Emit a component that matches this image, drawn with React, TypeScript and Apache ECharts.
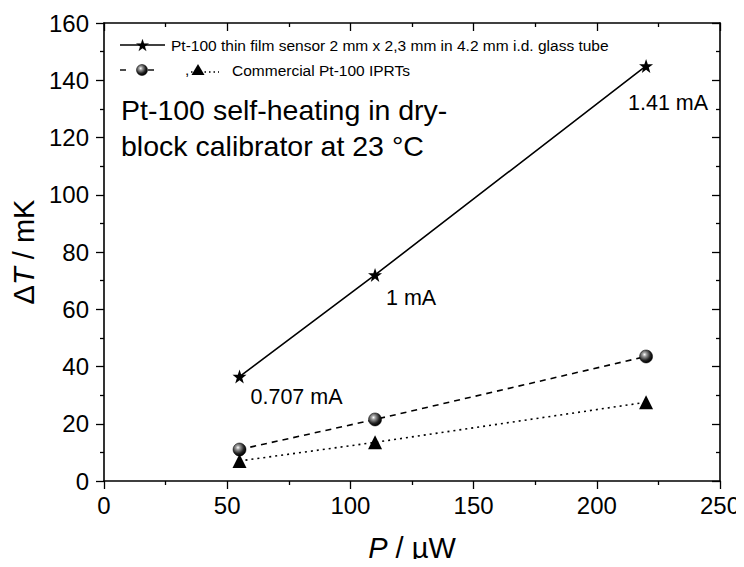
import React, { useEffect, useRef } from "react";
import * as echarts from "echarts";

const powerUW = [55, 110, 220];
const thinFilm = [36.5, 72, 145];
const iprtCircle = [11, 21.5, 43.5];
const iprtTriangle = [7, 13.5, 27.5];
const currentLabels = ["0.707 mA", "1 mA", "1.41 mA"];
const legendThin = "Pt-100 thin film sensor 2 mm x 2,3 mm in 4.2 mm i.d. glass tube";
const legendIPRT = "Commercial Pt-100 IPRTs";
const noteText = "Pt-100 self-heating in dry-\nblock calibrator at 23 °C";

const STAR_D =
  "M50,0 L61.8,35.3 L98.1,35.3 L68.7,57.1 L79.4,92.7 L50,70.9 L20.6,92.7 L31.3,57.1 L1.9,35.3 L38.2,35.3 Z";
const STAR = "path://" + STAR_D;

echarts.graphic.registerShape("legendStar", echarts.graphic.extendPath(STAR_D, {}));

const sphere = {
  type: "radial",
  x: 0.38,
  y: 0.35,
  r: 0.65,
  colorStops: [
    { offset: 0, color: "#ffffff" },
    { offset: 0.25, color: "#9a9a9a" },
    { offset: 0.7, color: "#222222" },
    { offset: 1, color: "#000000" },
  ],
};

const FONT = "Liberation Sans, Arial, sans-serif";
const labelOffsets = [
  [57, 20],
  [36, 23],
  [22, 37],
];

export default function App() {
  const ref = useRef<HTMLDivElement>(null);
  useEffect(() => {
    const chart = echarts.init(ref.current!, null, { renderer: "svg" });
    const pairs = (ys: number[]) => powerUW.map((x, i) => [x, ys[i]]);
    const tickStyle = { color: "#000", width: 1.3 };
    const axisCommon = {
      min: 0,
      axisLine: { show: true, onZero: false, lineStyle: { color: "#000", width: 1.6 } },
      splitLine: { show: false },
    };
    chart.setOption({
      animation: false,
      backgroundColor: "#fff",
      textStyle: { fontFamily: FONT },
      grid: { left: 104, right: 24, top: 23, bottom: 86 },
      xAxis: [
        {
          ...axisCommon,
          type: "value",
          position: "bottom",
          max: 250,
          interval: 50,
          axisTick: { show: true, inside: false, length: 8, lineStyle: tickStyle },
          minorTick: { show: true, splitNumber: 2, length: 4, lineStyle: tickStyle },
          axisLabel: { color: "#000", fontSize: 24, fontFamily: FONT, margin: 12 },
          name: "{i|P} / µW",
          nameLocation: "middle",
          nameGap: 52,
          nameTextStyle: {
            color: "#000",
            fontSize: 29,
            fontFamily: FONT,
            rich: { i: { fontStyle: "italic", fontSize: 29, fontFamily: FONT, color: "#000" } },
          },
        },
        {
          ...axisCommon,
          type: "value",
          position: "top",
          max: 250,
          interval: 50,
          axisTick: { show: true, inside: true, length: 8, lineStyle: tickStyle },
          minorTick: { show: true, splitNumber: 2, length: 4, lineStyle: tickStyle },
          axisLabel: { show: false },
        },
      ],
      yAxis: [
        {
          ...axisCommon,
          type: "value",
          position: "left",
          max: 160,
          interval: 20,
          axisTick: { show: true, inside: false, length: 8, lineStyle: tickStyle },
          minorTick: { show: true, splitNumber: 2, length: 4, lineStyle: tickStyle },
          axisLabel: { color: "#000", fontSize: 24, fontFamily: FONT, margin: 15 },
          name: "Δ{i|T} / mK",
          nameLocation: "middle",
          nameGap: 63,
          nameTextStyle: {
            color: "#000",
            fontSize: 29,
            fontFamily: FONT,
            rich: { i: { fontStyle: "italic", fontSize: 29, fontFamily: FONT, color: "#000" } },
          },
        },
        {
          ...axisCommon,
          type: "value",
          position: "right",
          max: 160,
          interval: 20,
          axisTick: { show: true, inside: true, length: 8, lineStyle: tickStyle },
          minorTick: { show: true, splitNumber: 2, length: 4, lineStyle: tickStyle },
          axisLabel: { show: false },
        },
      ],
      series: [
        {
          type: "line",
          data: pairs(thinFilm).map((v, i) => ({
            value: v,
            label: { offset: labelOffsets[i] },
          })),
          symbol: STAR,
          symbolSize: 14,
          lineStyle: { color: "#000", width: 1.6, type: "solid" },
          itemStyle: { color: "#000" },
          label: {
            show: true,
            position: "inside",
            align: "center",
            verticalAlign: "middle",
            color: "#000",
            fontSize: 21.5,
            fontFamily: FONT,
            formatter: (p: any) => currentLabels[p.dataIndex],
          },
          z: 3,
        },
        {
          type: "line",
          data: pairs(iprtCircle),
          symbol: "circle",
          symbolSize: 13,
          lineStyle: { color: "#000", width: 1.6, type: [6, 5] },
          itemStyle: { color: sphere as any, borderColor: "#000", borderWidth: 0.5 },
          z: 3,
        },
        {
          type: "line",
          data: pairs(iprtTriangle),
          symbol: "triangle",
          symbolSize: 14,
          lineStyle: { color: "#000", width: 1.6, type: [2, 4] },
          itemStyle: { color: "#000" },
          z: 3,
        },
      ],
      graphic: [
        { type: "line", shape: { x1: 120, y1: 45, x2: 165, y2: 45 }, style: { stroke: "#000", lineWidth: 1.4 } },
        {
          type: "legendStar",
          x: 136,
          y: 39,
          scaleX: 0.13,
          scaleY: 0.13,
          style: { fill: "#000", stroke: "#000", lineWidth: 1 },
          z: 10,
        },
        {
          type: "text",
          x: 171,
          y: 45,
          style: { text: legendThin, fontSize: 15.5, fontFamily: FONT, fill: "#000", textVerticalAlign: "middle" },
        },
        { type: "line", shape: { x1: 120, y1: 70, x2: 126, y2: 70 }, style: { stroke: "#000", lineWidth: 1.4 } },
        { type: "line", shape: { x1: 148, y1: 70, x2: 154, y2: 70 }, style: { stroke: "#000", lineWidth: 1.4 } },
        {
          type: "circle",
          shape: { cx: 142, cy: 70, r: 5.5 },
          style: { fill: sphere as any, stroke: "#000", lineWidth: 0.5 },
          z: 10,
        },
        {
          type: "text",
          x: 185,
          y: 69,
          style: { text: ",", fontSize: 15.5, fontFamily: FONT, fill: "#000", textVerticalAlign: "middle" },
        },
        {
          type: "line",
          shape: { x1: 191, y1: 72, x2: 219, y2: 72 },
          style: { stroke: "#000", lineWidth: 1.3, lineDash: [1.5, 3] },
        },
        {
          type: "polygon",
          shape: { points: [[198, 64], [191.5, 75], [204.5, 75]] },
          style: { fill: "#000" },
          z: 10,
        },
        {
          type: "text",
          x: 232,
          y: 70,
          style: { text: legendIPRT, fontSize: 15.5, fontFamily: FONT, fill: "#000", textVerticalAlign: "middle" },
        },
        {
          type: "text",
          x: 121,
          y: 92,
          style: {
            text: noteText,
            fontSize: 28.5,
            lineHeight: 36,
            fontFamily: FONT,
            fill: "#000",
          },
        },
      ],
    });
    return () => chart.dispose();
  }, []);
  return (
    <div style={{ width: 744, height: 567, margin: -8 }}>
      <div ref={ref} style={{ width: 744, height: 567 }} />
    </div>
  );
}
